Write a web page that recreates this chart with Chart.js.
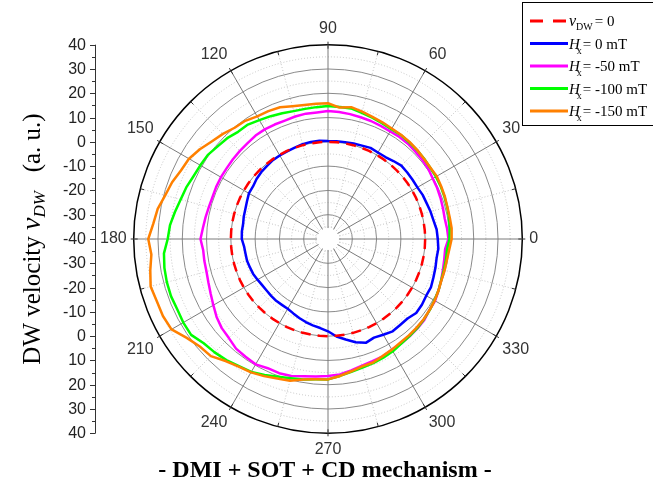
<!DOCTYPE html>
<html><head><meta charset="utf-8">
<script src="https://cdn.jsdelivr.net/npm/chart.js@4.4.0/dist/chart.umd.min.js"></script>
<style>html,body{margin:0;padding:0;background:#fff;}canvas{display:block;}</style>
</head><body>
<canvas id="c" width="653" height="486"></canvas>
<script>
// Angles (degrees, counter-clockwise from +x) at which values were read
const angles = [0,5,10,15,20,25,30,35,40,45,50,55,60,65,70,75,80,85,90,95,100,105,110,115,120,125,130,135,140,145,150,155,160,165,170,175,180,185,190,195,200,205,210,215,220,225,230,235,240,245,250,255,260,265,270,275,280,285,290,295,300,305,310,315,320,325,330,335,340,345,350,355];
const vZero = [0,0,0,0,0,0,0,0,0,0,0,0,0,0,0,0,0,0,0,0,0,0,0,0,0,0,0,0,0,0,0,0,0,0,0,0,0,0,0,0,0,0,0,0,0,0,0,0,0,0,0,0,0,0,0,0,0,0,0,0,0,0,0,0,0,0,0,0,0,0,0,0];
const hx0 = [5.2,4.9,4.1,3.7,3.2,3.0,2.5,2.5,2.6,2.7,1.9,1.2,1.1,1.4,0.9,0.7,0.5,0.4,0.3,0.6,0.6,0.4,0.0,-0.2,-0.3,-0.4,-0.8,-1.1,-1.6,-2.3,-2.4,-3.2,-3.8,-4.1,-4.5,-4.4,-4.5,-5.3,-5.5,-5.5,-5.8,-6.0,-6.5,-6.9,-7.0,-6.9,-6.8,-6.9,-6.8,-6.2,-5.4,-4.6,-3.9,-3.2,-2.0,0.3,2.0,4.0,5.5,4.8,5.5,6.4,6.2,6.3,7.4,7.2,6.7,6.8,6.2,5.8,5.4,5.6];
const hx50 = [9.6,9.2,8.8,9.0,9.3,9.6,9.8,10.4,10.7,10.9,11.2,11.3,11.2,11.4,11.7,11.9,12.2,12.5,12.7,12.3,12.4,12.2,11.9,12.0,12.1,12.0,11.5,11.3,11.1,10.9,10.9,10.8,10.6,10.8,11.2,11.7,12.5,11.6,11.7,11.8,12.4,13.3,14.5,16.0,17.1,17.7,18.9,19.2,19.6,18.7,18.8,18.4,17.4,16.8,16.4,16.0,14.9,14.0,13.5,13.3,12.6,12.5,12.3,12.1,11.8,11.0,10.9,10.2,9.6,9.0,8.6,8.4];
const hx100 = [10.0,10.3,10.6,10.8,11.0,11.2,11.3,11.3,11.6,11.8,12.0,12.3,12.2,12.6,13.2,13.8,14.6,14.6,14.8,14.5,14.4,14.5,15.1,15.8,16.5,17.5,17.6,18.7,19.3,20.4,20.7,21.1,22.1,22.8,24.0,25.3,26.0,27.8,28.4,28.7,28.8,28.5,28.8,28.8,26.8,26.0,25.1,23.9,23.2,21.8,20.3,19.3,18.7,18.0,17.8,16.6,15.5,14.8,14.4,13.9,13.4,12.6,12.2,11.9,11.5,11.1,10.6,10.2,9.6,9.4,9.3,9.2];
const hx150 = [10.9,11.1,10.9,10.9,11.2,11.4,11.7,11.4,11.5,11.9,12.2,12.4,12.5,13.0,13.5,14.3,15.1,14.3,15.9,15.9,16.0,16.6,17.7,18.1,18.3,19.4,19.8,21.2,22.5,24.4,26.1,26.8,28.3,29.4,31.2,32.2,34.0,33.0,34.3,35.6,35.0,35.0,34.4,31.0,28.9,28.2,25.6,24.1,23.4,22.3,21.1,20.4,18.7,18.0,17.8,16.6,15.3,14.3,14.1,13.2,12.6,12.0,11.8,11.6,11.4,11.0,10.7,10.2,9.7,9.7,9.7,10.1];
const leftTickLabels = [40,30,20,10,0,-10,-20,-30,-40,-30,-20,-10,0,10,20,30,40];
const seriesNames = ['vDW = 0','Hx= 0 mT','Hx= -50 mT','Hx= -100 mT','Hx= -150 mT'];
const seriesColors = ['#ff0000','#0000ff','#ff00ff','#00ff00','#ff8000'];
const rMin = -40, rMax = 40;

// Chart.js radar runs clockwise from its start angle; reorder so angles grow counter-clockwise.
const order = angles.map((_, i) => (angles.length - i) % angles.length);
const labels = order.map(j => angles[j]);
const pick = arr => order.map(j => arr[j]);
const allSeries = [vZero, hx0, hx50, hx100, hx150];

const datasets = allSeries.map((arr, k) => ({
  label: seriesNames[k],
  data: pick(arr),
  borderColor: seriesColors[k],
  backgroundColor: 'rgba(0,0,0,0)',
  borderWidth: 2.5,
  borderDash: k === 0 ? [10, 7] : [],
  pointRadius: 0,
  pointHoverRadius: 0,
  fill: false,
  tension: 0,
  order: [0, 1, 4, 3, 2][k]
}));

const SERIF = '"Liberation Serif", "Times New Roman", serif';
const SANS = '"Liberation Sans", Arial, sans-serif';

function drawRich(ctx, parts, x, y) {
  let cx = x;
  for (const p of parts) {
    ctx.font = p.font;
    ctx.fillText(p.t, cx, y + (p.dy || 0));
    cx += ctx.measureText(p.t).width + (p.gap || 0);
  }
  return cx;
}
function richWidth(ctx, parts) {
  let w = 0;
  for (const p of parts) { ctx.font = p.font; w += ctx.measureText(p.t).width + (p.gap || 0); }
  return w;
}

const decor = {
  id: 'decor',
  beforeDatasetsDraw(chart) {
    const s = chart.scales.r, ctx = chart.ctx;
    const cx = s.xCenter, cy = s.yCenter, R = s.getDistanceFromCenterForValue(rMax);
    ctx.save();
    ctx.fillStyle = '#fff';
    ctx.beginPath(); ctx.arc(cx, cy, 11, 0, Math.PI * 2); ctx.fill();
    ctx.strokeStyle = '#333'; ctx.lineWidth = 1;
    for (let a = 0; a < 360; a += 15) {
      const t = a * Math.PI / 180;
      const r1 = R - 4, r2 = a % 30 === 0 ? R + 3 : R;
      ctx.beginPath();
      ctx.moveTo(cx + r1 * Math.cos(t), cy - r1 * Math.sin(t));
      ctx.lineTo(cx + r2 * Math.cos(t), cy - r2 * Math.sin(t));
      ctx.stroke();
    }
    ctx.restore();
  },
  afterDraw(chart) {
    const s = chart.scales.r, ctx = chart.ctx;
    const cy = s.yCenter;
    const ax = 95;
    ctx.save();
    const yTop = cy - s.getDistanceFromCenterForValue(rMax);
    const yBot = cy + s.getDistanceFromCenterForValue(rMax);
    ctx.strokeStyle = '#333'; ctx.lineWidth = 1;
    ctx.beginPath(); ctx.moveTo(ax + 0.5, yTop); ctx.lineTo(ax + 0.5, yBot); ctx.stroke();
    ctx.fillStyle = '#222'; ctx.font = '16px ' + SANS;
    ctx.textAlign = 'right'; ctx.textBaseline = 'middle';
    const half = (leftTickLabels.length - 1) / 2;
    leftTickLabels.forEach((v, k) => {
      const side = k < half ? -1 : (k === half ? 0 : 1);
      const y = Math.round(cy + side * s.getDistanceFromCenterForValue(v)) + 0.5;
      ctx.beginPath(); ctx.moveTo(ax - 5, y); ctx.lineTo(ax + 0.5, y); ctx.stroke();
      ctx.fillText(String(v), ax - 9, y);
      if (k < leftTickLabels.length - 1) {
        const v2 = v + (k < half ? -5 : 5);
        const side2 = k < half ? -1 : 1;
        const y2 = Math.round(cy + side2 * s.getDistanceFromCenterForValue(v2)) + 0.5;
        ctx.beginPath(); ctx.moveTo(ax - 3, y2); ctx.lineTo(ax + 0.5, y2); ctx.stroke();
      }
    });
    // y title
    ctx.save();
    ctx.translate(31, cy);
    ctx.rotate(-Math.PI / 2);
    ctx.fillStyle = '#000'; ctx.textAlign = 'left'; ctx.textBaseline = 'alphabetic';
    const tparts = [
      {t: 'DW velocity ', font: '25px ' + SERIF},
      {t: 'v', font: 'italic 28px ' + SERIF},
      {t: 'DW', font: 'italic 17px ' + SERIF, dy: 5},
      {t: '   (a. u.)', font: '25px ' + SERIF}
    ];
    const tw = richWidth(ctx, tparts);
    drawRich(ctx, tparts, -tw / 2, 9);
    ctx.restore();
    // x title
    ctx.fillStyle = '#000'; ctx.textAlign = 'center'; ctx.textBaseline = 'alphabetic';
    ctx.font = 'bold 24px ' + SERIF;
    ctx.fillText('- DMI + SOT + CD mechanism -', 325, 477);
    // legend
    ctx.strokeStyle = '#000'; ctx.lineWidth = 1;
    ctx.strokeRect(522.5, 2.5, 140, 123);
    const rows = [21, 43.5, 66, 88.5, 111];
    ctx.textAlign = 'left'; ctx.textBaseline = 'alphabetic';
    rows.forEach((y, k) => {
      ctx.strokeStyle = seriesColors[k];
      ctx.lineWidth = 3;
      ctx.setLineDash(k === 0 ? [13, 10] : []);
      ctx.beginPath(); ctx.moveTo(530, y); ctx.lineTo(568, y); ctx.stroke();
      ctx.setLineDash([]);
      ctx.fillStyle = '#000';
      let parts;
      if (k === 0) {
        parts = [
          {t: 'v', font: 'italic 16px ' + SERIF},
          {t: 'DW', font: '10px ' + SERIF, dy: 4, gap: 2},
          {t: '= 0', font: '15px ' + SERIF}
        ];
      } else {
        const rest = seriesNames[k].slice(2);
        parts = [
          {t: 'H', font: 'italic 15px ' + SERIF, gap: -3},
          {t: 'x', font: '10px ' + SERIF, dy: 5, gap: 1},
          {t: rest, font: '15px ' + SERIF}
        ];
      }
      drawRich(ctx, parts, 569, y + 5);
    });
    ctx.restore();
  }
};

new Chart(document.getElementById('c'), {
  type: 'radar',
  data: { labels: labels, datasets: datasets },
  options: {
    responsive: false,
    animation: false,
    devicePixelRatio: 1,
    layout: { padding: { left: 91, right: 105, top: 14, bottom: 22 } },
    plugins: { legend: { display: false }, tooltip: { enabled: false } },
    elements: { line: { borderJoinStyle: 'round' } },
    scales: {
      r: {
        min: rMin, max: rMax,
        startAngle: 90,
        ticks: { display: false, stepSize: 5 },
        grid: {
          circular: true,
          color: c => c.tick.value === rMax ? '#000' : (c.tick.value % 10 === 0 ? '#8a8a8a' : '#c4c4c4'),
          lineWidth: c => c.tick.value === rMax ? 1.5 : 1
        },
        border: { dash: c => (c.tick && c.tick.value % 10 !== 0) ? [1, 2] : [] },
        angleLines: {
          color: c => { const a = labels[c.index]; return a % 30 === 0 ? '#7a7a7a' : (a % 15 === 0 ? '#c4c4c4' : 'rgba(0,0,0,0)'); },
          lineWidth: c => (labels[c.index] % 15 === 0 ? 1 : 0),
          borderDash: c => (labels[c.index] % 30 === 0 ? [] : [1, 2])
        },
        pointLabels: {
          padding: 7,
          color: '#333',
          font: { family: SANS, size: 16 },
          callback: (lab) => (lab % 30 === 0 ? String(lab) : '')
        }
      }
    }
  },
  plugins: [decor]
});
</script>
</body></html>
